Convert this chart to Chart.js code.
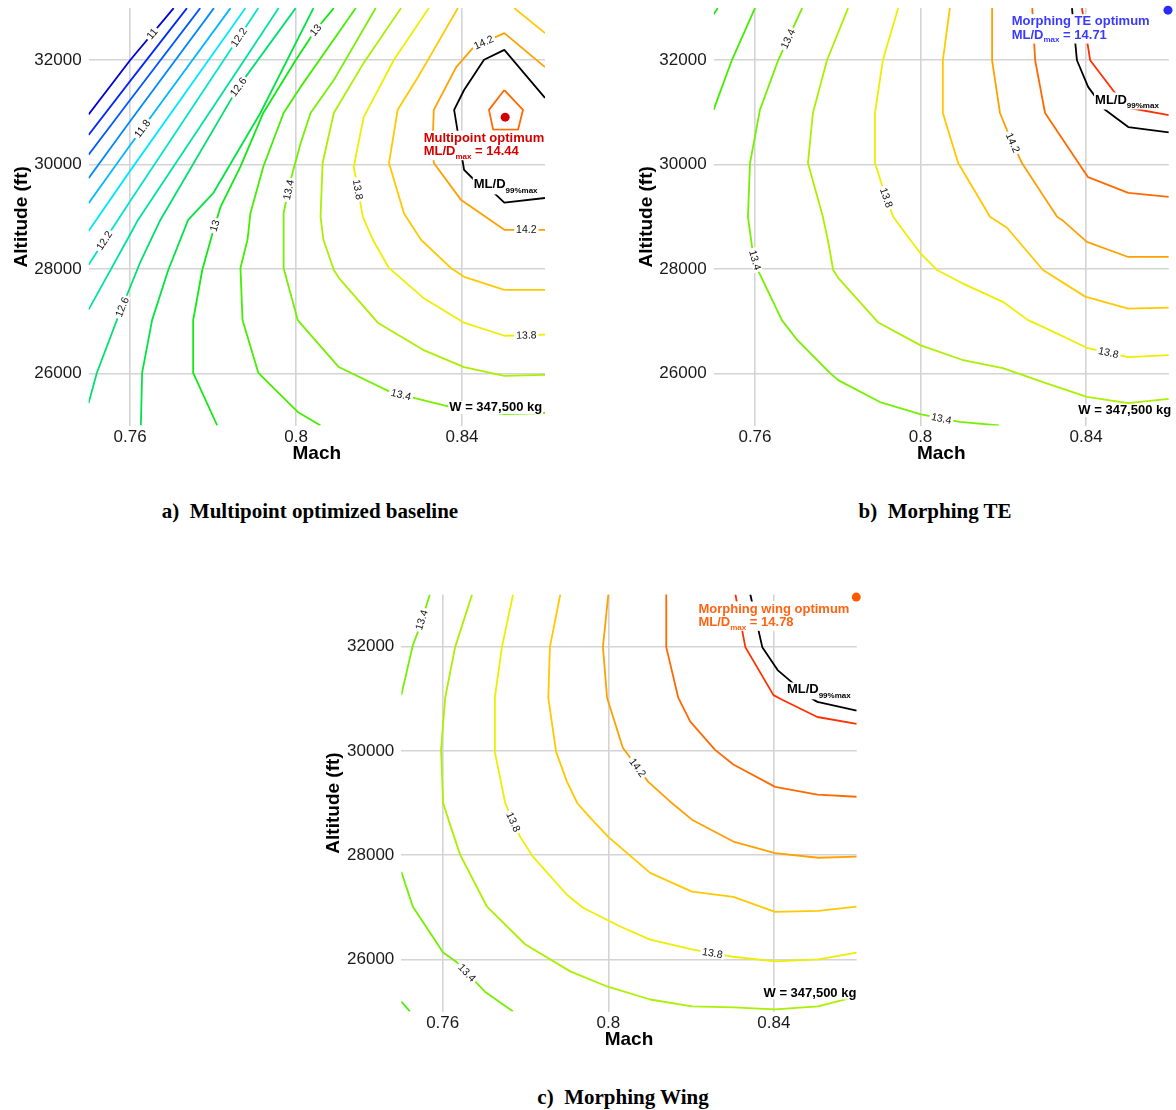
<!DOCTYPE html>
<html><head><meta charset="utf-8">
<script src="https://cdn.jsdelivr.net/npm/chart.js@4/dist/chart.umd.min.js"></script>
<style>
html,body{margin:0;padding:0;background:#fff;width:1176px;height:1110px;overflow:hidden;position:relative}
canvas.pc{position:absolute}
.cap{position:absolute;font-family:"Liberation Serif","Times New Roman",serif;font-weight:bold;font-size:21px;line-height:1;white-space:pre;transform:translate(-50%,-50%);color:#000}
</style></head><body>
<canvas id="ca" class="pc" style="left:0px;top:0px" width="553" height="475"></canvas>
<canvas id="cb" class="pc" style="left:625px;top:0px" width="551" height="475"></canvas>
<canvas id="cc" class="pc" style="left:312px;top:586px" width="553" height="475"></canvas>
<div class="cap" style="left:310px;top:511px">a)  Multipoint optimized baseline</div>
<div class="cap" style="left:935px;top:511px">b)  Morphing TE</div>
<div class="cap" style="left:623px;top:1097px">c)  Morphing Wing</div>
<script>
// ---- axes ----
const xTicks = [0.76, 0.8, 0.84];
const yTicks = [26000, 28000, 30000, 32000];
const machRange = [0.75, 0.86];
const altRange = [25000, 33000];

// ---- panel (a) Multipoint optimized baseline : contour segments [Mach, altitude ft] ----
const a_110 = [[0.7705,33000],[0.76,32000],[0.75,30960]];
const a_112 = [[0.7737,33000],[0.76,31600],[0.75,30570]];
const a_114 = [[0.7769,33000],[0.76,31240],[0.75,30190]];
const a_116 = [[0.7802,33000],[0.76,30830],[0.75,29740]];
const a_118 = [[0.7842,33000],[0.76,30370],[0.75,29260]];
const a_120 = [[0.7878,33000],[0.76,29880],[0.75,28730]];
const a_122 = [[0.7909,33000],[0.76,29300],[0.75,28080]];
const a_124 = [[0.7958,33000],[0.7875,32000],[0.7619,28940],[0.76,28660],[0.75,27220]];
const a_126 = [[0.7999,33000],[0.7861,31490],[0.7673,28940],[0.7624,28120],[0.7571,27080],[0.7520,26010],[0.75,25430]];
const a_128 = [[0.8042,33000],[0.7914,30990],[0.7801,29460],[0.7740,28940],[0.7692,27980],[0.7653,27020],[0.7629,26010],[0.7626,25000]];
const a_130 = [[0.8091,33000],[0.8047,32580],[0.7999,32000],[0.7921,30990],[0.7866,29960],[0.7818,29190],[0.7801,28750],[0.7774,27980],[0.7752,27020],[0.7752,26010],[0.7810,25000]];
const a_132 = [[0.8144,33000],[0.8011,31490],[0.7970,30990],[0.7921,29960],[0.7890,29070],[0.7883,28560],[0.7866,28020],[0.7871,27020],[0.7909,26010],[0.8004,25260],[0.8059,25000]];
const a_134 = [[0.8192,33000],[0.8091,31620],[0.8035,30990],[0.8011,30410],[0.7987,29710],[0.7970,29070],[0.7970,28020],[0.8004,27020],[0.8103,26120],[0.8228,25640],[0.8369,25360],[0.8502,25220],[0.86,25240]];
const a_136 = [[0.8253,33000],[0.8163,31950],[0.8091,30990],[0.8064,30030],[0.8059,29000],[0.8066,28560],[0.8091,27980],[0.8103,27830],[0.8197,26970],[0.8306,26450],[0.8405,26120],[0.8502,25950],[0.86,25970]];
const a_138 = [[0.8320,33000],[0.8236,32010],[0.8163,30910],[0.8139,29960],[0.8161,29000],[0.8185,28560],[0.8224,28020],[0.8306,27450],[0.8405,26970],[0.8502,26720],[0.86,26740]];
const a_140 = [[0.8390,33000],[0.8332,32200],[0.8294,31680],[0.8245,31050],[0.8224,30030],[0.8260,29070],[0.8301,28560],[0.8373,28020],[0.8405,27850],[0.8502,27600],[0.86,27600]];
const a_140b = [[0.8526,33000],[0.86,32520]];
const a_142 = [[0.86,31870],[0.8502,32520],[0.8429,32260],[0.8386,31870],[0.8332,31050],[0.8330,30610],[0.8332,30030],[0.8398,29320],[0.8502,28750],[0.86,28750]];
const a_144 = [[0.8502,31430],[0.8547,31050],[0.8535,30670],[0.8475,30670],[0.8465,31050],[0.8502,31430]];
const a_99max = [[0.86,31280],[0.8502,32200],[0.8453,32010],[0.8405,31430],[0.8381,31050],[0.8390,30610],[0.8405,29900],[0.8429,29710],[0.8477,29460],[0.8502,29270],[0.86,29360]];
const a_optimum = [0.8504, 30910];
const a_optValue = '14.44';

// ---- panel (b) Morphing TE ----
const b_130 = [[0.75,32880],[0.7510,33000]];
const b_132 = [[0.76,33000],[0.7544,32000],[0.75,31050]];
const b_134 = [[0.7714,33000],[0.7656,32000],[0.7612,31050],[0.7588,30030],[0.7583,29000],[0.7595,28310],[0.7607,27980],[0.7665,27020],[0.7702,26640],[0.7781,26010],[0.7801,25870],[0.7902,25450],[0.7999,25220],[0.8052,25130],[0.8095,25070],[0.8190,25000]];
const b_136 = [[0.7825,33000],[0.7774,32000],[0.7740,30990],[0.7728,30030],[0.7764,29000],[0.7776,28560],[0.7789,27980],[0.7801,27830],[0.7897,26980],[0.7999,26540],[0.8100,26260],[0.8199,26100],[0.8296,25830],[0.8402,25550],[0.8502,25430],[0.86,25510]];
const b_138 = [[0.7946,33000],[0.7909,32000],[0.7890,30990],[0.7890,30030],[0.7909,29550],[0.7934,29000],[0.7975,28560],[0.7999,28310],[0.8040,27980],[0.8100,27730],[0.8199,27370],[0.8260,27020],[0.8296,26890],[0.8402,26490],[0.8502,26310],[0.86,26350]];
const b_140 = [[0.8071,33000],[0.8054,32000],[0.8054,30990],[0.8091,30030],[0.8168,29000],[0.8209,28790],[0.8296,27980],[0.8398,27470],[0.8502,27240],[0.86,27260]];
const b_142 = [[0.8173,33000],[0.8173,32000],[0.8192,30990],[0.8209,30660],[0.8245,30030],[0.8330,29000],[0.8342,28940],[0.8402,28520],[0.8502,28230],[0.86,28230]];
const b_144 = [[0.8270,33000],[0.8277,32000],[0.8301,30990],[0.8398,29840],[0.8405,29760],[0.8502,29460],[0.86,29380]];
const b_146 = [[0.8390,33000],[0.8410,32000],[0.8477,31300],[0.8502,31090],[0.86,30950]];
const b_99max = [[0.8366,33000],[0.8378,32000],[0.8405,31490],[0.8446,31050],[0.8502,30720],[0.86,30620]];
const b_optimum = [0.8598, 32960];
const b_optValue = '14.71';

// ---- panel (c) Morphing Wing ----
const c_132 = [[0.75,25190],[0.7521,25000]];
const c_134a = [[0.7569,33000],[0.7540,32280],[0.7528,32030],[0.75,31070]];
const c_134b = [[0.75,27680],[0.7528,27010],[0.7601,26130],[0.7635,25940],[0.7702,25380],[0.7770,25000]];
const c_136 = [[0.7671,33000],[0.7630,31990],[0.7606,31020],[0.7596,30020],[0.7601,29000],[0.7618,28580],[0.7642,28010],[0.7707,27010],[0.7799,26290],[0.7908,25770],[0.7997,25480],[0.8101,25230],[0.8202,25100],[0.8302,25080],[0.8403,25040],[0.8507,25100],[0.86,25290]];
const c_138 = [[0.7770,33000],[0.7743,31990],[0.7726,31020],[0.7726,29980],[0.7751,29000],[0.7763,28770],[0.7787,28350],[0.7818,27970],[0.7900,27240],[0.7939,26990],[0.8029,26630],[0.8101,26380],[0.8202,26190],[0.8302,26050],[0.8403,25960],[0.8507,26000],[0.86,26130]];
const c_140 = [[0.7884,33000],[0.7859,31990],[0.7855,31020],[0.7874,29980],[0.7900,29410],[0.7925,29000],[0.7956,28720],[0.8000,28350],[0.8101,27660],[0.8202,27300],[0.8302,27200],[0.8403,26910],[0.8507,26930],[0.86,27010]];
const c_142 = [[0.8000,33000],[0.7987,31990],[0.7997,31020],[0.8035,30060],[0.8096,29410],[0.8149,29030],[0.8202,28680],[0.8302,28260],[0.8403,28040],[0.8507,27950],[0.86,27970]];
const c_144 = [[0.8140,33000],[0.8140,31990],[0.8169,31020],[0.8198,30560],[0.8258,30020],[0.8302,29740],[0.8403,29310],[0.8505,29160],[0.86,29120]];
const c_146 = [[0.8307,33000],[0.8331,31990],[0.8399,31070],[0.8420,30980],[0.8505,30650],[0.86,30520]];
const c_99max = [[0.8343,33000],[0.8372,31990],[0.8409,31550],[0.8484,31040],[0.8505,30940],[0.86,30770]];
const c_optimum = [0.8599, 32950];
const c_optValue = '14.78';

const weightText = 'W = 347,500 kg';

// ---- styles ----
const FONT = '"Liberation Sans", Arial, Helvetica, sans-serif';
const levelColor = {
  '11.0':'#0000d8','11.2':'#0028ff','11.4':'#0058ff','11.6':'#0088ff','11.8':'#00b8ff','12.0':'#00e8ff',
  '12.2':'#00e6c8','12.4':'#00e2a0','12.6':'#00e070','12.8':'#00e444','13.0':'#12e812','13.2':'#44ee00',
  '13.4':'#74f000','13.6':'#aaf000','13.8':'#eeee00','14.0':'#ffc800','14.2':'#ffa000','14.4':'#ff6a00','14.6':'#ff3000'
};

const panels = [
  { id:'ca', axisW:88.6, padTop:8.1, padRight:8, xAxisH:49.5,
    lines:[[11.0,a_110],[11.2,a_112],[11.4,a_114],[11.6,a_116],[11.8,a_118],[12.0,a_120],[12.2,a_122],[12.4,a_124],[12.6,a_126],[12.8,a_128],[13.0,a_130],[13.2,a_132],[13.4,a_134],[13.6,a_136],[13.8,a_138],[14.0,a_140],[14.0,a_140b],[14.2,a_142],[14.4,a_144]],
    black:a_99max, opt:a_optimum, optVal:a_optValue, dotColor:'#d40000', txtColor:'#d40000', optTitle:'Multipoint optimum',
    optAt:[0.83075,30505], wAt:[0.83693,25344], blackAt:[0.84283,29611],
    labels:[['11',a_110,0.7652,32517],['11.8',a_118,0.7624,30722],['12.2',a_122,0.7861,32446],['12.2',a_122,0.7535,28557],
            ['12.6',a_126,0.7861,31490],['12.6',a_126,0.7581,27270],['13',a_130,0.8047,32580],['13',a_130,0.7808,28820],
            ['13.4',a_134,0.7982,29515],['13.8',a_138,0.8144,29515],['13.4',a_134,0.8253,25590],['13.8',a_138,0.8555,26740],
            ['14.2',a_142,0.8453,32330],['14.2',a_142,0.8555,28650]] },
  { id:'cb', axisW:88.6, padTop:8.1, padRight:7.2, xAxisH:49.5,
    lines:[[13.0,b_130],[13.2,b_132],[13.4,b_134],[13.6,b_136],[13.8,b_138],[14.0,b_140],[14.2,b_142],[14.4,b_144],[14.6,b_146]],
    black:b_99max, opt:b_optimum, optVal:b_optValue, dotColor:'#2b2bff', txtColor:'#3a3aff', optTitle:'Morphing TE optimum',
    optAt:[0.82204,32740], wAt:[0.83814,25286], blackAt:[0.84218,31239],
    labels:[['13.4',b_134,0.7677,32420],['13.4',b_134,0.76,28170],['13.4',b_134,0.8050,25120],
            ['13.8',b_138,0.7914,29356],['13.8',b_138,0.8454,26386],['14.2',b_142,0.8221,30413]] },
  { id:'cc', axisW:89.3, padTop:8.5, padRight:8.3, xAxisH:49.5,
    lines:[[13.2,c_132],[13.4,c_134a],[13.4,c_134b],[13.6,c_136],[13.8,c_138],[14.0,c_140],[14.2,c_142],[14.4,c_144],[14.6,c_146]],
    black:c_99max, opt:c_optimum, optVal:c_optValue, dotColor:'#ff5a00', txtColor:'#ff6414', optTitle:'Morphing wing optimum',
    optAt:[0.82178,32723], wAt:[0.83749,25356], blackAt:[0.84314,31170],
    labels:[['13.4',c_134a,0.7550,32510],['13.4',c_134b,0.7654,25706],['13.8',c_138,0.7772,28640],
            ['13.8',c_138,0.8251,26090],['14.2',c_142,0.8070,29675]] }
];

function textParts(ctx, x, y, parts) {
  let cx = x;
  parts.forEach(([t, size, dy]) => {
    ctx.font = 'bold ' + size + 'px ' + FONT;
    ctx.fillText(t, cx, y + dy);
    cx += ctx.measureText(t).width;
  });
  return cx - x;
}
function partsWidth(ctx, parts) {
  let w = 0;
  parts.forEach(([t, size]) => { ctx.font = 'bold ' + size + 'px ' + FONT; w += ctx.measureText(t).width; });
  return w;
}

const textPlugin = {
  id: 'contourText',
  afterDatasetsDraw(chart, args, o) {
    const ctx = chart.ctx, xs = chart.scales.x, ys = chart.scales.y;
    const P = (m, a) => [xs.getPixelForValue(m), ys.getPixelForValue(a)];
    ctx.save();
    o.labels.forEach(([text, line, m, a]) => {
      const pts = line.map(p => P(p[0], p[1]));
      const [ax, ay] = P(m, a);
      let best = null;
      for (let i = 0; i < pts.length - 1; i++) {
        const [x1, y1] = pts[i], [x2, y2] = pts[i + 1];
        const dx = x2 - x1, dy = y2 - y1, L2 = dx * dx + dy * dy;
        let t = L2 ? ((ax - x1) * dx + (ay - y1) * dy) / L2 : 0;
        t = Math.max(0, Math.min(1, t));
        const px = x1 + t * dx, py = y1 + t * dy, d = (px - ax) ** 2 + (py - ay) ** 2;
        if (!best || d < best.d) best = { d, px, py, ang: Math.atan2(dy, dx) };
      }
      let ang = best.ang;
      if (ang > Math.PI / 2) ang -= Math.PI;
      if (ang <= -Math.PI / 2) ang += Math.PI;
      ctx.save();
      ctx.translate(best.px, best.py);
      ctx.rotate(ang);
      ctx.font = '10.5px ' + FONT;
      const w = ctx.measureText(text).width;
      ctx.fillStyle = '#fff';
      ctx.fillRect(-w / 2 - 2, -4.5, w + 4, 9);
      ctx.fillStyle = '#111';
      ctx.textAlign = 'center';
      ctx.textBaseline = 'middle';
      ctx.fillText(text, 0, 0.5);
      ctx.restore();
    });
    ctx.textBaseline = 'middle';
    ctx.textAlign = 'left';
    {
      const [x, y] = P(o.optAt[0], o.optAt[1]);
      const l1 = [[o.optTitle, 13, 0]];
      const l2 = [['ML/D', 13, 0], ['max', 8, 5], [' = ' + o.optVal, 13, 0]];
      const w = Math.max(partsWidth(ctx, l1), partsWidth(ctx, l2));
      ctx.fillStyle = '#fff';
      ctx.fillRect(x - 1, y - 7.5, w + 2, 13.4 + 16);
      ctx.fillStyle = o.txtColor;
      textParts(ctx, x, y, l1);
      textParts(ctx, x, y + 13.4, l2);
    }
    {
      const [x, y] = P(o.blackAt[0], o.blackAt[1]);
      const parts = [['ML/D', 13, 0], ['99%max', 8, 5.5]];
      const w = partsWidth(ctx, parts);
      ctx.fillStyle = '#fff';
      ctx.fillRect(x - 1, y - 7.5, w + 2, 17);
      ctx.fillStyle = '#000';
      textParts(ctx, x, y, parts);
    }
    {
      const [x, y] = P(o.wAt[0], o.wAt[1]);
      const parts = [[weightText, 13, 0]];
      const w = partsWidth(ctx, parts);
      ctx.fillStyle = '#fff';
      ctx.fillRect(x - 1, y - 6.5, w + 2, 13);
      ctx.fillStyle = '#000';
      textParts(ctx, x, y, parts);
    }
    ctx.restore();
  }
};

function pts(arr) { return arr.map(([x, y]) => ({ x, y })); }

panels.forEach(p => {
  const datasets = p.lines.map(([lv, arr]) => ({
    data: pts(arr), borderColor: levelColor[lv.toFixed(1)], borderWidth: 1.8,
    pointRadius: 0, showLine: true, fill: false, tension: 0, borderJoinStyle: 'round'
  }));
  datasets.push({ data: pts(p.black), borderColor: '#000', borderWidth: 1.8, pointRadius: 0, showLine: true, fill: false, tension: 0, borderJoinStyle: 'round' });
  datasets.push({ data: [{ x: p.opt[0], y: p.opt[1] }], pointRadius: 4.5, pointBackgroundColor: p.dotColor, pointBorderWidth: 0, showLine: false, clip: false });
  const grid = { color: '#d4d4d4', lineWidth: 1.6, drawTicks: false };
  new Chart(document.getElementById(p.id), {
    type: 'scatter',
    data: { datasets },
    plugins: [textPlugin],
    options: {
      responsive: false, animation: false, events: [],
      layout: { padding: { left: 0, right: p.padRight, top: p.padTop, bottom: 0 } },
      plugins: { legend: { display: false }, tooltip: { enabled: false },
        contourText: { labels: p.labels, optAt: p.optAt, wAt: p.wAt, blackAt: p.blackAt, optTitle: p.optTitle, optVal: p.optVal, txtColor: p.txtColor } },
      scales: {
        x: { type: 'linear', min: machRange[0], max: machRange[1],
          afterBuildTicks: s => { s.ticks = xTicks.map(v => ({ value: v })); },
          afterFit: s => { s.height = p.xAxisH; s.paddingLeft = 0; s.paddingRight = 0; s.paddingTop = 0; s.paddingBottom = 0; },
          grid, border: { display: false },
          ticks: { font: { family: FONT, size: 17 }, color: '#1a1a1a', padding: 2, maxRotation: 0, autoSkip: false, callback: v => String(v) },
          title: { display: true, text: 'Mach', font: { family: FONT, size: 19, weight: 'bold' }, color: '#000', padding: { top: 0, bottom: 10 } } },
        y: { type: 'linear', min: altRange[0], max: altRange[1],
          afterBuildTicks: s => { s.ticks = yTicks.map(v => ({ value: v })); },
          afterFit: s => { s.width = p.axisW; s.paddingLeft = 0; s.paddingRight = 0; s.paddingTop = 0; s.paddingBottom = 0; },
          grid, border: { display: false },
          ticks: { font: { family: FONT, size: 17 }, color: '#1a1a1a', padding: 7, autoSkip: false, callback: v => String(v) },
          title: { display: true, text: 'Altitude (ft)', font: { family: FONT, size: 19, weight: 'bold' }, color: '#000', padding: { top: 10, bottom: 0 } } }
      }
    }
  });
});
</script>
</body></html>
